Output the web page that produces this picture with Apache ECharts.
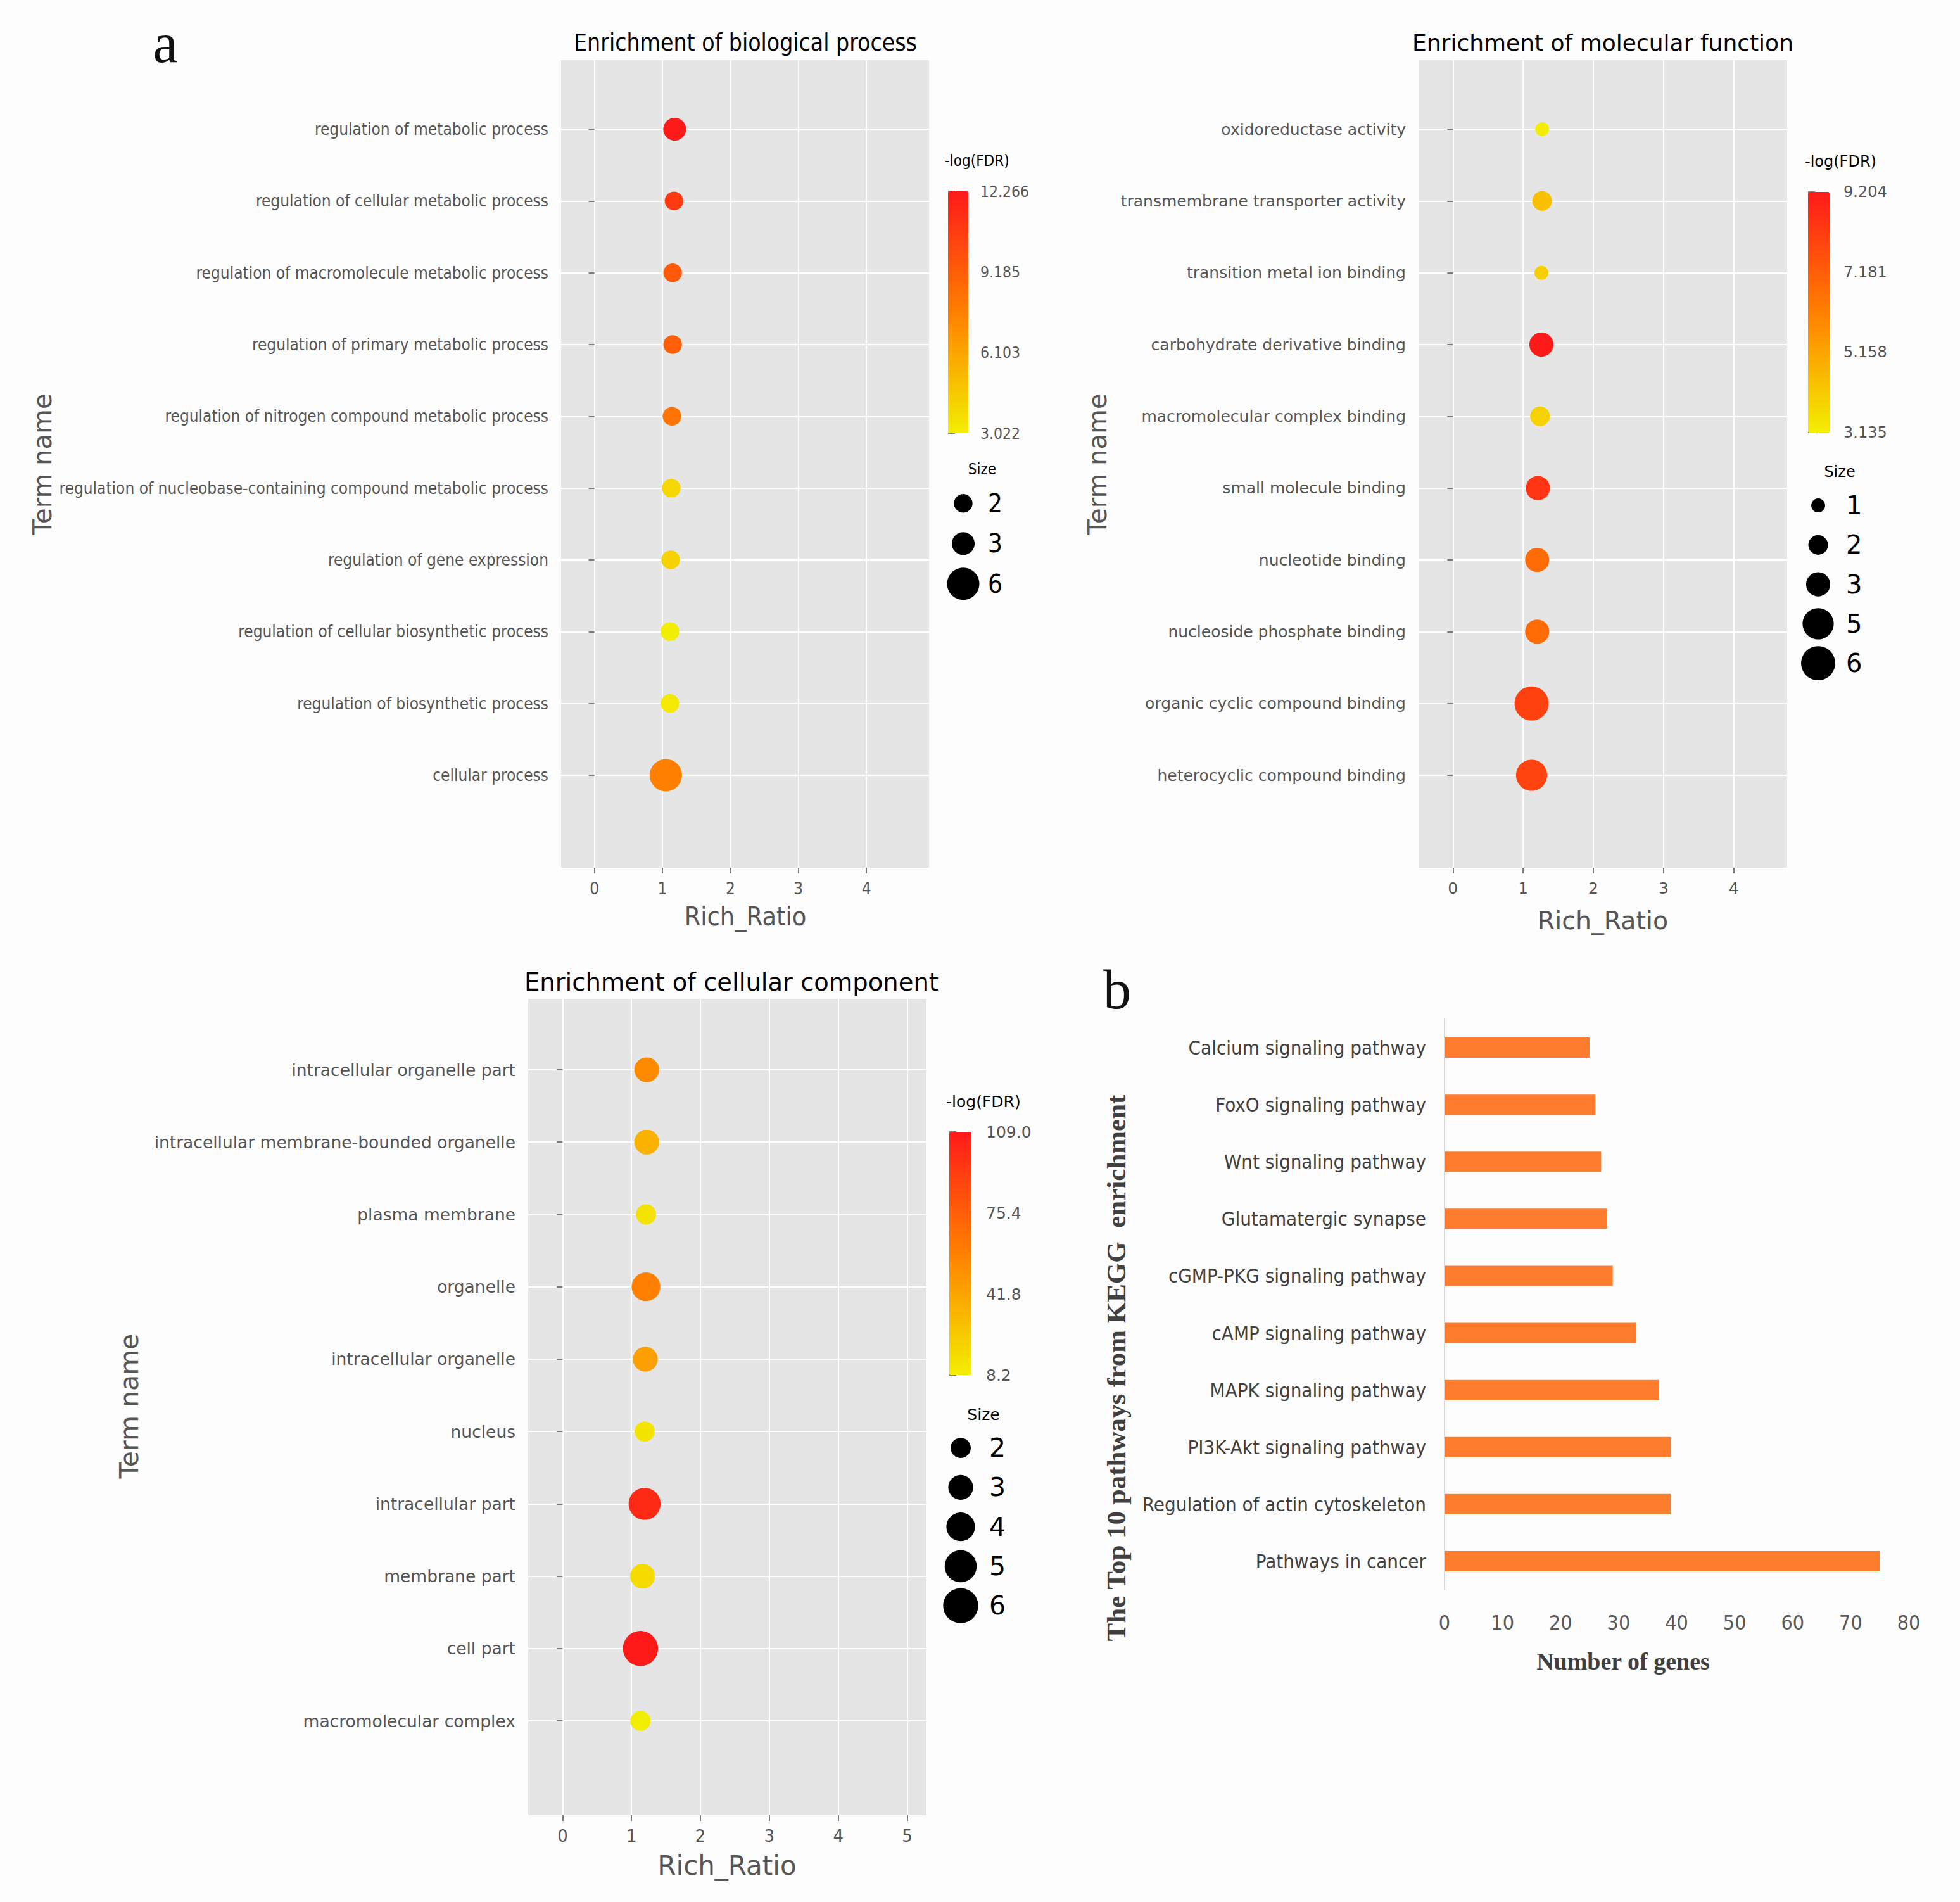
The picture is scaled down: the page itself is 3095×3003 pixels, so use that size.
<!DOCTYPE html>
<html><head><meta charset="utf-8">
<script src="https://cdn.jsdelivr.net/npm/echarts@6/dist/echarts.min.js"></script>
<style>html,body{margin:0;padding:0;background:#fdfdfd}#c{width:3095px;height:3003px}</style>
</head><body><div id="c"></div>
<script>
// ---------- Biological process ----------
const bpTerms = ['regulation of metabolic process','regulation of cellular metabolic process','regulation of macromolecule metabolic process','regulation of primary metabolic process','regulation of nitrogen compound metabolic process','regulation of nucleobase-containing compound metabolic process','regulation of gene expression','regulation of cellular biosynthetic process','regulation of biosynthetic process','cellular process'];
const bpRichRatio = [1.18, 1.17, 1.15, 1.15, 1.14, 1.13, 1.12, 1.11, 1.11, 1.05];
const bpSize = [3, 2, 2, 2, 2, 2, 2, 2, 2, 6];
const bpLogFDR = [12.266, 10.8, 9.4, 9.15, 8.25, 4.0, 4.2, 3.022, 3.25, 7.65];
const bpColorTicks = [3.022, 6.103, 9.185, 12.266];
const bpSizeBreaks = [2, 3, 6];
const bpXTicks = [0, 1, 2, 3, 4];

// ---------- Molecular function ----------
const mfTerms = ['oxidoreductase activity','transmembrane transporter activity','transition metal ion binding','carbohydrate derivative binding','macromolecular complex binding','small molecule binding','nucleotide binding','nucleoside phosphate binding','organic cyclic compound binding','heterocyclic compound binding'];
const mfRichRatio = [1.27, 1.27, 1.26, 1.26, 1.24, 1.21, 1.20, 1.20, 1.12, 1.12];
const mfSize = [1, 2, 1, 3, 2, 3, 3, 3, 6, 5];
const mfLogFDR = [3.135, 4.4, 4.0, 9.204, 3.9, 8.4, 6.8, 6.8, 8.05, 7.95];
const mfColorTicks = [3.135, 5.158, 7.181, 9.204];
const mfSizeBreaks = [1, 2, 3, 5, 6];
const mfXTicks = [0, 1, 2, 3, 4];

// ---------- Cellular component ----------
const ccTerms = ['intracellular organelle part','intracellular membrane-bounded organelle','plasma membrane','organelle','intracellular organelle','nucleus','intracellular part','membrane part','cell part','macromolecular complex'];
const ccRichRatio = [1.22, 1.22, 1.21, 1.21, 1.20, 1.19, 1.19, 1.16, 1.13, 1.13];
const ccSize = [3, 3, 2, 4, 3, 2, 5, 3, 6, 2];
const ccLogFDR = [54, 35.5, 13.5, 58.5, 44.5, 12.2, 101, 17, 109.0, 8.2];
const ccColorTicks = [8.2, 41.8, 75.4, 109.0];
const ccSizeBreaks = [2, 3, 4, 5, 6];
const ccXTicks = [0, 1, 2, 3, 4, 5];

// ---------- KEGG ----------
const keggPathways = ['Calcium signaling pathway','FoxO signaling pathway','Wnt signaling pathway','Glutamatergic synapse','cGMP-PKG signaling pathway','cAMP signaling pathway','MAPK signaling pathway','PI3K-Akt signaling pathway','Regulation of actin cytoskeleton','Pathways in cancer'];
const keggGenes = [25, 26, 27, 28, 29, 33, 37, 39, 39, 75];

const FDR_COLORS = ['#f3ee00', '#ff8000', '#ff1a1a'];
const DJ = "'DejaVu Sans', sans-serif";
const DJC = "'DejaVu Sans Condensed', 'DejaVu Sans', sans-serif";
const NARROW = "'Liberation Sans Narrow', 'DejaVu Sans Condensed', sans-serif";
const SERIF = "'Liberation Serif', 'DejaVu Serif', serif";

const opt = {
  backgroundColor: '#fdfdfd',
  animation: false,
  grid: [], xAxis: [], yAxis: [], series: [], visualMap: [], graphic: []
};

function txt(text, x, y, font, fill, align, rot) {
  return { type: 'text', x: x, y: y, rotation: rot || 0, silent: true,
    style: { text: text, font: font, fill: fill, align: align || 'center', verticalAlign: 'middle',
             textAlign: align || 'center', textVerticalAlign: 'middle' } };
}

function buildPanel(P, D) {
  const g0 = opt.grid.length, xi = opt.xAxis.length, yi = opt.yAxis.length, si = opt.series.length;
  const fmin = Math.min.apply(null, D.fdr), fmax = Math.max.apply(null, D.fdr);
  opt.grid.push({ left: P.left, top: P.top, width: P.width, height: P.height, show: true,
    backgroundColor: '#e5e5e5', borderWidth: 0, containLabel: false, outerBoundsMode: 'none' });
  opt.grid.push({ left: P.left, top: P.catTop, width: P.width, height: P.catHeight, show: false, containLabel: false, outerBoundsMode: 'none' });
  opt.grid.push({ left: P.cbLeft, top: P.cbTop, width: P.cbWidth, height: P.cbHeight, show: false, containLabel: false, outerBoundsMode: 'none' });
  opt.grid.push({ left: P.szCx - 30, top: P.szTop, width: 60, height: P.szStep * D.sizeBreaks.length, show: false, containLabel: false, outerBoundsMode: 'none' });
  // background grid axes
  opt.xAxis.push({ gridIndex: g0, type: 'value', min: P.xMin, max: P.xMax,
    axisLine: { show: false },
    axisTick: { show: true, customValues: D.xTicks, length: 9, lineStyle: { color: '#7a7a7a', width: 2 } },
    axisLabel: { customValues: D.xTicks, margin: 20, fontSize: P.tickFs, fontFamily: P.fam, color: '#555555' },
    splitLine: { show: true, lineStyle: { color: '#ffffff', width: 2 } } });
  opt.yAxis.push({ gridIndex: g0, type: 'value', min: 0, max: 1, show: false });
  // data grid axes
  opt.xAxis.push({ gridIndex: g0 + 1, type: 'value', min: P.xMin, max: P.xMax, show: false });
  opt.yAxis.push({ gridIndex: g0 + 1, type: 'category', data: D.terms, inverse: true, boundaryGap: false,
    axisLine: { show: false },
    axisTick: { show: true, interval: 0, length: 9, lineStyle: { color: '#7a7a7a', width: 2 } },
    axisLabel: { interval: 0, margin: 20, fontSize: P.labelFs, fontFamily: P.fam, color: '#555555' },
    splitLine: { show: true, interval: 0, lineStyle: { color: '#ffffff', width: 2 } } });
  // colorbar axis
  opt.xAxis.push({ gridIndex: g0 + 2, type: 'value', show: false });
  opt.yAxis.push({ gridIndex: g0 + 2, type: 'value', position: 'right', min: fmin, max: fmax,
    axisLine: { show: false },
    axisTick: { show: true, customValues: D.colorTicks, length: 11, lineStyle: { color: '#555555', width: 1.5 } },
    axisLabel: { customValues: D.colorTicks, formatter: function (v) { return v.toFixed(P.dec); },
      margin: P.cbMargin, fontSize: P.cbFs, fontFamily: P.fam, color: '#555555' },
    splitLine: { show: false } });
  // size legend axes
  opt.xAxis.push({ gridIndex: g0 + 3, type: 'value', min: -1, max: 1, show: false });
  opt.yAxis.push({ gridIndex: g0 + 3, type: 'category', position: 'right', inverse: true,
    data: D.sizeBreaks.map(String),
    axisLine: { show: false }, axisTick: { show: false }, splitLine: { show: false },
    axisLabel: { interval: 0, margin: P.szMargin, fontSize: P.szFs, fontFamily: P.fam, color: '#000000' } });
  // series
  opt.series.push({ type: 'scatter', xAxisIndex: xi + 1, yAxisIndex: yi + 1, z: 3,
    data: D.terms.map(function (t, i) { return [D.rich[i], t, D.size[i], D.fdr[i]]; }),
    symbolSize: function (v) { return P.k * Math.sqrt(v[2]); },
    itemStyle: { opacity: 1 } });
  opt.series.push({ type: 'scatter', xAxisIndex: xi + 3, yAxisIndex: yi + 3,
    data: D.sizeBreaks.map(function (b) { return [0, String(b), b]; }),
    symbolSize: function (v) { return P.k * Math.sqrt(v[2]); },
    itemStyle: { color: '#000000', opacity: 1 } });
  opt.visualMap.push({ type: 'continuous', seriesIndex: si, dimension: 3, min: fmin, max: fmax,
    inRange: { color: FDR_COLORS }, orient: 'vertical', left: P.cbLeft, top: P.cbTop,
    itemWidth: P.cbWidth, itemHeight: P.cbHeight, padding: 0, calculable: false, hoverLink: false });
  // texts
  opt.graphic.push(txt(P.title, P.titleX, P.titleY, P.titleFs + 'px ' + P.fam, '#000000'));
  opt.graphic.push(txt('Term name', P.termX, P.termY, P.axisFs + 'px ' + DJ, '#555555', 'center', Math.PI / 2));
  opt.graphic.push(txt('Rich_Ratio', P.richX, P.richY, P.richFs + 'px ' + P.fam, '#555555'));
  opt.graphic.push(txt('-log(FDR)', P.cbLeft - 5, P.cbTop - 48, P.legFs + 'px ' + P.fam, '#000000', 'left'));
  opt.graphic.push(txt('Size', P.sizeTitleX, P.szTop - 22, P.legFs + 'px ' + P.fam, '#000000'));
}

buildPanel({
  left: 886, top: 95, width: 581, height: 1275, catTop: 204, catHeight: 1020, xMin: -0.49, xMax: 4.92,
  fam: DJC, tickFs: 26, labelFs: 26, k: 20.8,
  cbLeft: 1497, cbTop: 302, cbWidth: 32, cbHeight: 382, cbMargin: 19, cbFs: 24.5, dec: 3,
  szCx: 1521, szTop: 763, szStep: 63.5, szMargin: 9, szFs: 40,
  title: 'Enrichment of biological process', titleX: 1177, titleY: 67, titleFs: 37,
  termX: 67, termY: 733, axisFs: 40, richX: 1177, richY: 1447, richFs: 41, legFs: 24, sizeTitleX: 1551
}, { terms: bpTerms, rich: bpRichRatio, size: bpSize, fdr: bpLogFDR, colorTicks: bpColorTicks, sizeBreaks: bpSizeBreaks, xTicks: bpXTicks });

buildPanel({
  left: 2240, top: 95, width: 582, height: 1275, catTop: 204, catHeight: 1020, xMin: -0.49, xMax: 4.76,
  fam: DJ, tickFs: 25, labelFs: 25, k: 22,
  cbLeft: 2855, cbTop: 303, cbWidth: 34, cbHeight: 380, cbMargin: 22, cbFs: 24, dec: 3,
  szCx: 2871, szTop: 767, szStep: 62.25, szMargin: 14, szFs: 40,
  title: 'Enrichment of molecular function', titleX: 2531, titleY: 67, titleFs: 36,
  termX: 1733, termY: 733, axisFs: 40, richX: 2531, richY: 1453, richFs: 39.5, legFs: 24, sizeTitleX: 2905
}, { terms: mfTerms, rich: mfRichRatio, size: mfSize, fdr: mfLogFDR, colorTicks: mfColorTicks, sizeBreaks: mfSizeBreaks, xTicks: mfXTicks });

buildPanel({
  left: 834, top: 1577, width: 629, height: 1289, catTop: 1689, catHeight: 1028, xMin: -0.5, xMax: 5.28,
  fam: DJ, tickFs: 26, labelFs: 26.5, k: 22.6,
  cbLeft: 1499, cbTop: 1787, cbWidth: 35, cbHeight: 384, cbMargin: 23, cbFs: 25, dec: 1,
  szCx: 1517, szTop: 2255, szStep: 62.25, szMargin: 15, szFs: 41,
  title: 'Enrichment of cellular component', titleX: 1155, titleY: 1550, titleFs: 38.5,
  termX: 204, termY: 2220, axisFs: 41, richX: 1148, richY: 2945, richFs: 42, legFs: 25, sizeTitleX: 1553
}, { terms: ccTerms, rich: ccRichRatio, size: ccSize, fdr: ccLogFDR, colorTicks: ccColorTicks, sizeBreaks: ccSizeBreaks, xTicks: ccXTicks });

// ---------- KEGG bar chart ----------
(function () {
  const g = opt.grid.length, xi = opt.xAxis.length, yi = opt.yAxis.length;
  opt.grid.push({ left: 2281, top: 1609, width: 733, height: 901, show: false, containLabel: false, outerBoundsMode: 'none' });
  opt.xAxis.push({ gridIndex: g, type: 'value', min: 0, max: 80, interval: 10,
    axisLine: { show: false }, axisTick: { show: false }, splitLine: { show: false },
    axisLabel: { margin: 36, fontSize: 32, fontFamily: NARROW, color: '#595959' } });
  opt.yAxis.push({ gridIndex: g, type: 'category', data: keggPathways, inverse: true,
    axisLine: { show: true, lineStyle: { color: '#d9d9d9', width: 2 } }, axisTick: { show: false },
    splitLine: { show: false },
    axisLabel: { interval: 0, margin: 29, fontSize: 31, fontFamily: NARROW, color: '#404040' } });
  opt.series.push({ type: 'bar', xAxisIndex: xi, yAxisIndex: yi, data: keggGenes, barWidth: 32,
    itemStyle: { color: '#fd7c2e' } });
  opt.graphic.push(txt('The Top 10 pathways from KEGG  enrichment', 1762, 2160, 'bold 43px ' + SERIF, '#404040', 'center', Math.PI / 2));
  opt.graphic.push(txt('Number of genes', 2563, 2623, 'bold 38px ' + SERIF, '#404040'));
})();

opt.graphic.push(txt('a', 261, 68, '88px ' + SERIF, '#111111'));
opt.graphic.push(txt('b', 1764, 1562, '88px ' + SERIF, '#111111'));

const chart = echarts.init(document.getElementById('c'), null, { renderer: 'svg' });
chart.setOption(opt);
</script>
</body></html>
